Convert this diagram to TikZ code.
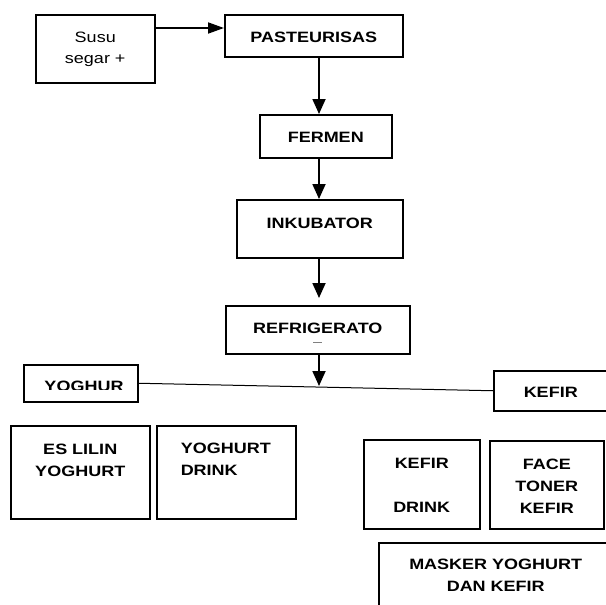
\documentclass[tikz,border=0pt]{standalone}
\usepackage{fontspec}
\setmainfont{Liberation Sans}[FakeStretch = 1.2]
\usetikzlibrary{arrows.meta}

\tikzset{
	box/.style = {draw, line width = 1.5pt, inner sep = 0pt, anchor = north west, align = center, font = \bfseries\fontsize{15}{22}\selectfont},
	plainbox/.style = {box, font = \fontsize{15}{21}\selectfont},
	arr/.style = {line width = 1.8pt, -{Triangle[length = 15pt, width = 13pt]}},
	harr/.style = {line width = 1.8pt, -{Triangle[length = 16pt, width = 11pt]}}
}

\begin{document}
\begin{tikzpicture}[x = 1pt, y = -1pt]
	\useasboundingbox (0, 0) rectangle (606, 605);
	\clip (0, 0) rectangle (606, 605);

	\node[plainbox, text width = 119pt, text height = 28pt, text depth = 40pt] (susu) at (35, 14) {Susu\\segar +};
	\node[box, text width = 178pt, text height = 28pt, text depth = 14pt] (pas) at (224, 14) {PASTEURISAS};
	\node[box, text width = 132pt, text height = 28pt, text depth = 15pt] (fer) at (259, 114) {FERMEN};
	\node[box, text width = 166pt, text height = 29pt, text depth = 29pt] (inc) at (236, 199) {INKUBATOR};
	\node[box, text width = 184pt, text height = 28pt, text depth = 20pt] (refr) at (225, 305) {REFRIGERATO};
	\draw[gray, line width = 0.6pt] (313, 342) -- (322, 342);

	\node[box, text width = 114pt, text height = 37pt, text depth = 0pt] (yog) at (23, 364) {};
	\begin{scope}
		\clip (yog.north west) rectangle (137, 389);
		\node[font = \bfseries\fontsize{15}{22}\selectfont, inner sep = 0pt, anchor = base] at (84, 391) {YOGHUR};
	\end{scope}
	\node[box, text width = 114pt, text height = 27pt, text depth = 13pt] (kef) at (493, 370) {KEFIR};

	\node[box, text width = 139pt, text height = 29pt, text depth = 64pt] (esl) at (10, 425) {ES LILIN\\YOGHURT};
	\node[box, align = left, text width = 139pt, text height = 28pt, text depth = 65pt] (ydr) at (156, 425) {\hspace*{24pt}YOGHURT\\\hspace*{24pt}DRINK};
	\node[box, text width = 116pt, text height = 29pt, text depth = 60pt] (kdr) at (363, 439) {KEFIR\\\mbox{}\\DRINK};
	\node[box, text width = 114pt, text height = 29pt, text depth = 59pt] (ftk) at (489, 440) {FACE\\TONER\\KEFIR};
	\node[box, text width = 234pt, text height = 27pt, text depth = 80pt] (msk) at (378, 542) {MASKER YOGHURT\\DAN KEFIR};

	\coordinate (feed) at ([yshift = -14pt]susu.north east);
	\coordinate (spine) at (319, 0);
	\coordinate (split) at (319, 386);

	\draw[harr] (feed) -- (feed -| pas.west);
	\draw[arr] (spine |- pas.south) -- (spine |- fer.north);
	\draw[arr] (spine |- fer.south) -- (spine |- inc.north);
	\draw[arr, shorten > = 7pt] (spine |- inc.south) -- (spine |- refr.north);
	\draw[arr] (spine |- refr.south) -- (split);
	\draw[line width = 1pt] (yog.east) -- (kef.west);
\end{tikzpicture}
\end{document}
